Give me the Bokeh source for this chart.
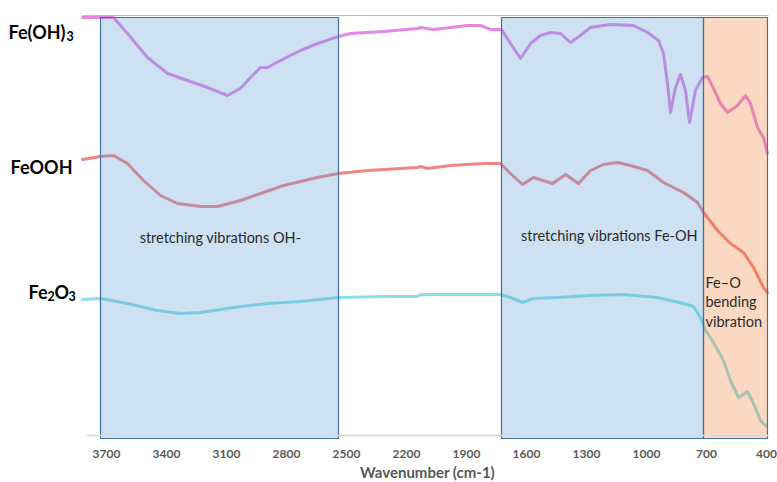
from bokeh.plotting import figure
from bokeh.models import Range1d, FixedTicker, LinearAxis, Label
from bokeh.embed import file_html
from bokeh.resources import INLINE

# ---- data (wavenumber cm-1, relative transmittance) ----
feoh3_wn = [3820, 3665, 3595, 3495, 3395, 3295, 3195, 3095, 3030, 2980,
            2930, 2895, 2830, 2730, 2645, 2540, 2480, 2315, 2145, 2130,
            2065, 1980, 1895, 1830, 1780, 1725, 1680, 1630, 1580, 1530,
            1480, 1430, 1380, 1330, 1280, 1180, 1065, 995, 940, 915,
            895, 880, 855, 830, 805, 785, 755, 720, 695, 665,
            630, 595, 545, 505, 480, 445, 415, 395]
feoh3_t = [418, 418, 402, 378, 362, 355, 348, 340, 347, 358,
           368, 368, 375, 385, 392, 399, 402, 404, 407, 408,
           406, 408, 410, 410, 406, 406, 392, 377, 392, 400,
           403, 402, 393, 400, 408, 411, 410, 403, 395, 382,
           352, 323, 348, 361, 345, 313, 345, 358, 359, 347,
           332, 323, 330, 340, 332, 308, 298, 282]

feooh_wn = [3820, 3730, 3665, 3595, 3515, 3430, 3345, 3230, 3145, 3030,
            2930, 2815, 2645, 2540, 2395, 2230, 2145, 2130, 2095, 1980,
            1815, 1730, 1680, 1620, 1565, 1470, 1405, 1340, 1280, 1215,
            1145, 1080, 995, 915, 815, 745, 715, 645, 580, 515,
            465, 415, 395]
feooh_t = [276, 279, 280, 272, 255, 240, 232, 229, 229, 235,
           242, 250, 258, 262, 265, 267, 268, 269, 267, 270,
           272, 272, 262, 251, 258, 252, 261, 252, 265, 271,
           273, 270, 265, 253, 243, 233, 223, 205, 192, 183,
           168, 148, 143]

fe2o3_wn = [3820, 3730, 3595, 3445, 3330, 3230, 3065, 2895, 2730, 2540,
            2315, 2145, 2130, 1980, 1730, 1680, 1620, 1565, 1445, 1280,
            1115, 945, 815, 765, 730, 705, 665, 615, 580, 540,
            495, 465, 430, 400]
fe2o3_t = [136, 137, 132, 125, 122, 123, 128, 132, 134, 138,
           139, 139, 141, 141, 141, 138, 133, 137, 138, 140,
           141, 138, 132, 129, 118, 105, 93, 75, 55, 38,
           44, 32, 15, 9]

# shaded assignment regions
region_start = [3730, 1725, 715]
region_end = [2540, 715, 395]
region_top = [418, 418, 418]
region_bottom = [-3, -3, -3]
region_color = ["#5b9bd5", "#5b9bd5", "#ed7d31"]

tick_values = [3700, 3400, 3100, 2800, 2500, 2200, 1900, 1600, 1300, 1000, 700, 400]
axis_extent = (3800, 392)
axis_title = "Wavenumber (cm-1)"
axis_title_pos = (2095, -36)

region_text = ["stretching vibrations OH-", "stretching vibrations Fe-OH"]
region_text_x = [3130, 1185]
region_text_y = [198, 200]

bend_text = ["Fe\u2013O", "bending", "vibration"]
bend_text_x = 705
bend_text_y = [153, 134, 114]

FONT = "Lato"

p = figure(width=777, height=482, x_range=Range1d(4230, 345), y_range=Range1d(-47, 420),
           output_backend="svg", toolbar_location=None, y_axis_location=None,
           min_border_left=0, min_border_right=0, min_border_top=15, min_border_bottom=0)
p.grid.visible = False
p.outline_line_color = None
p.background_fill_color = "white"
p.border_fill_color = "white"

# spectra
for xs, ys, col in [(feoh3_wn, feoh3_t, "#e07ce2"),
                    (feooh_wn, feooh_t, "#f07878"),
                    (fe2o3_wn, fe2o3_t, "#7ddbe8")]:
    p.line(xs, ys, line_color=col, line_width=3, line_alpha=0.9,
           line_join="round", line_cap="round")

# shaded regions drawn over the spectra
p.quad(left=region_start, right=region_end, top=region_top, bottom=region_bottom,
       fill_color=region_color, fill_alpha=0.3, line_color="#41719c", line_width=1.2)

# x axis
ax = p.xaxis[0]
ax.ticker = FixedTicker(ticks=tick_values)
ax.bounds = axis_extent
ax.fixed_location = 0
ax.major_tick_line_color = None
ax.minor_tick_line_color = None
ax.major_tick_out = 0
ax.major_tick_in = 0
ax.axis_line_color = "#d9d9d9"
ax.axis_line_width = 1.5
ax.major_label_text_font = FONT
ax.major_label_text_font_style = "bold"
ax.major_label_text_font_size = "12px"
ax.major_label_text_color = "#595959"
ax.major_label_standoff = 14

p.add_layout(Label(x=axis_title_pos[0], y=axis_title_pos[1], text=axis_title,
                   text_font=FONT, text_font_style="bold", text_font_size="15px",
                   text_color="#595959", text_align="center", text_baseline="middle"))

# thin top border line
top_axis = LinearAxis(ticker=FixedTicker(ticks=[]), axis_line_color="#bfbfbf",
                      bounds=(3820, 392),
                      major_tick_line_color=None, minor_tick_line_color=None,
                      major_tick_out=0, major_tick_in=0, major_label_standoff=0)
p.add_layout(top_axis, "above")

# region annotations
for t, x, y in zip(region_text, region_text_x, region_text_y):
    p.add_layout(Label(x=x, y=y, text=t, text_font=FONT, text_font_size="14.5px",
                       text_color="#2b2b2b", text_align="center", text_baseline="middle"))
for t, y in zip(bend_text, bend_text_y):
    p.add_layout(Label(x=bend_text_x, y=y, text=t, text_font=FONT, text_font_size="14.5px",
                       text_color="#2b2b2b", text_align="left", text_baseline="middle"))

# series names on the left (with subscripts)
def lab(x, y, text, size, align, dx=0):
    p.add_layout(Label(x=x, y=y, text=text, x_offset=dx, text_font=FONT,
                       text_font_style="bold", text_font_size=size, text_color="black",
                       text_align=align, text_baseline="alphabetic"))

lab(3905, 404, "Fe(OH)", "18px", "right")
lab(3905, 400, "3", "12.5px", "left", 1)
lab(3870, 269, "FeOOH", "18px", "right")
lab(3995, 144, "Fe", "18px", "right")
lab(3995, 140, "2", "12.5px", "left", 0)
lab(3995, 144, "O", "18px", "left", 7)
lab(3995, 140, "3", "12.5px", "left", 21)

open("out.html", "w").write(file_html(p, INLINE))
